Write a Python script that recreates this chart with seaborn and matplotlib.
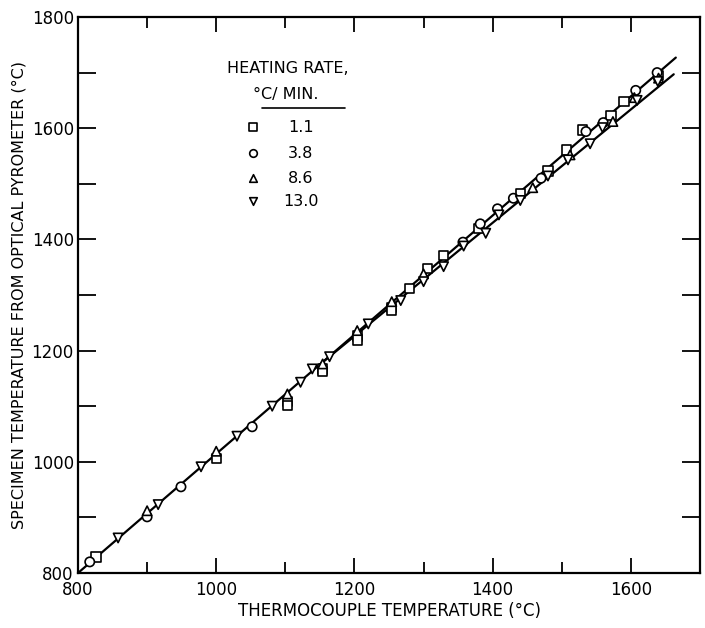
import numpy as np
import pandas as pd
import matplotlib
matplotlib.use("Agg")
import matplotlib.pyplot as plt
from matplotlib.ticker import MultipleLocator
import seaborn as sns

# heating rate 1.1 C/min (squares)
sq_x = [826, 1000, 1103, 1103, 1154, 1154, 1204, 1204, 1254, 1254, 1280, 1306,
        1329, 1380, 1440, 1480, 1507, 1530, 1571, 1590, 1640]
sq_y = [829, 1006, 1109, 1101, 1167, 1162, 1226, 1219, 1278, 1273, 1312, 1348,
        1371, 1420, 1482, 1523, 1561, 1597, 1623, 1648, 1695]
# heating rate 3.8 (circles)
ci_x = [817, 900, 949, 1052, 1357, 1382, 1407, 1430, 1470, 1535, 1560, 1607, 1638]
ci_y = [820, 901, 955, 1063, 1395, 1428, 1455, 1474, 1510, 1594, 1610, 1668, 1700]
# heating rate 8.6 (triangles up)
tu_x = [900, 1000, 1103, 1154, 1204, 1254, 1300, 1458, 1512, 1574, 1605, 1640]
tu_y = [912, 1019, 1122, 1176, 1236, 1288, 1338, 1493, 1552, 1612, 1655, 1690]
# heating rate 13.0 (triangles down)
td_x = [858, 916, 978, 1030, 1081, 1122, 1139, 1164, 1220, 1267, 1300, 1329,
        1358, 1390, 1409, 1440, 1480, 1509, 1541, 1559, 1609, 1639]
td_y = [863, 923, 991, 1046, 1100, 1143, 1167, 1189, 1248, 1290, 1324, 1351,
        1388, 1411, 1444, 1470, 1514, 1543, 1572, 1601, 1650, 1684]

# fitted lines
upper_x = [800, 1665]
upper_y = [800, 1727]
lower_x = [1150, 1662]
lower_y = [1175, 1697]

rates = ["1.1", "3.8", "8.6", "13.0"]
markers = {"1.1": "s", "3.8": "o", "8.6": "^", "13.0": "v"}

df = pd.concat([
    pd.DataFrame({"x": sq_x, "y": sq_y, "rate": "1.1"}),
    pd.DataFrame({"x": ci_x, "y": ci_y, "rate": "3.8"}),
    pd.DataFrame({"x": tu_x, "y": tu_y, "rate": "8.6"}),
    pd.DataFrame({"x": td_x, "y": td_y, "rate": "13.0"}),
])

sns.set_style("white")
plt.rcParams["font.family"] = ["DejaVu Sans"]
plt.rcParams["text.color"] = "black"
plt.rcParams["axes.labelcolor"] = "black"
plt.rcParams["xtick.color"] = "black"
plt.rcParams["ytick.color"] = "black"

fig = plt.figure(figsize=(7.05, 6.28), dpi=100)
ax = fig.add_axes([78 / 705, 55 / 628, 622 / 705, 556 / 628])

sns.lineplot(x=upper_x, y=upper_y, ax=ax, color="black", lw=1.6, zorder=2)
sns.lineplot(x=lower_x, y=lower_y, ax=ax, color="black", lw=1.6, zorder=2)
sns.scatterplot(data=df, x="x", y="y", style="rate", markers=markers,
                style_order=rates, ax=ax, s=45, facecolor="white",
                edgecolor="black", linewidth=1.2, legend=False, zorder=3)

ax.set_xlim(800, 1700)
ax.set_ylim(800, 1800)
ax.xaxis.set_major_locator(MultipleLocator(200))
ax.xaxis.set_minor_locator(MultipleLocator(100))
ax.yaxis.set_major_locator(MultipleLocator(200))
ax.yaxis.set_minor_locator(MultipleLocator(100))
ax.tick_params(axis="x", which="major", direction="in", length=11, width=1.3,
               top=True, bottom=True, labelsize=12, pad=6)
ax.tick_params(axis="x", which="minor", direction="in", length=8, width=1.3,
               top=True, bottom=True)
ax.tick_params(axis="y", which="both", direction="in", length=13, width=1.3,
               left=True, right=True, labelsize=12, pad=3)
for sp in ax.spines.values():
    sp.set_linewidth(1.6)
    sp.set_color("black")

ax.set_xlabel("THERMOCOUPLE TEMPERATURE (°C)", fontsize=12, labelpad=2)
ax.set_ylabel("SPECIMEN TEMPERATURE FROM OPTICAL PYROMETER (°C)", fontsize=11.5,
              labelpad=4)

# legend block
ax.text(0.338, 0.908, "HEATING RATE,", transform=ax.transAxes, ha="center",
        va="center", fontsize=11.5)
ax.text(0.334, 0.860, "°C/ MIN.", transform=ax.transAxes, ha="center",
        va="center", fontsize=11.5)
ax.plot([0.296, 0.429], [0.836, 0.836], transform=ax.transAxes, color="black",
        lw=1.2)
rows = [0.802, 0.755, 0.710, 0.669]
for r, yy in zip(rates, rows):
    ax.scatter([0.281], [yy], transform=ax.transAxes, marker=markers[r], s=30,
               facecolor="white", edgecolor="black", linewidth=1.2)
    ax.text(0.358, yy, r, transform=ax.transAxes, ha="center", va="center",
            fontsize=11.5)

fig.savefig("out.png", dpi=100)
